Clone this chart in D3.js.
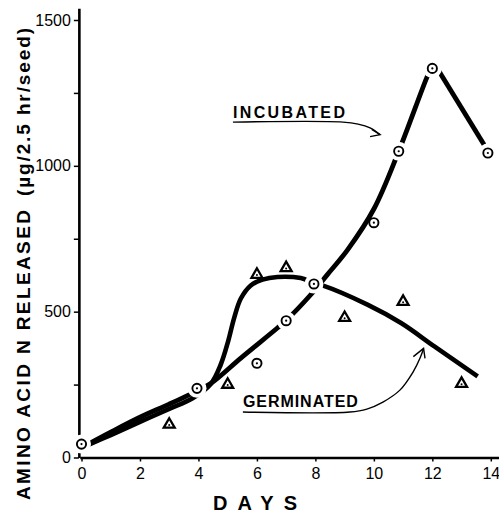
<!DOCTYPE html>
<html>
<head>
<meta charset="utf-8">
<script src="https://cdn.jsdelivr.net/npm/d3@7"></script>
<style>
  html, body { margin: 0; padding: 0; background: #fff; }
  svg { display: block; }
  text { font-family: "Liberation Sans", Arial, sans-serif; fill: #000; }
</style>
</head>
<body>
<script>
// ---------------- DATA ----------------
// Measured points: incubated seeds (circles)
const incubatedDays   = [0, 3.95, 6, 7, 7.95, 10, 10.85, 12, 13.9];
const incubatedValues = [46, 237, 323, 469, 595, 805, 1050, 1334, 1044];
const incubatedOnCurve = [true, true, false, true, true, false, true, true, true];

// Measured points: germinated seeds (triangles)
const germinatedDays   = [3, 5, 6, 7, 9, 11, 13];
const germinatedValues = [113, 250, 627, 650, 479, 534, 253];

// Hand-drawn fitted curves as [day, value]
const incubatedCurveRise = [[0.25,47],[1,87],[2,138],[3,183],[3.8,221],[4.42,254],[5.45,341],[6.7,444],[7,470],[7.84,558],[8.41,627],[9.1,712],[10,852],[10.85,1050],[11.8,1300],[12.04,1355]];
const incubatedCurveFall = [[12.04,1355],[13.77,1072]];
const germinatedCurve = [[0.25,44],[1,77],[2,122],[3,167],[3.8,203],[4.42,252],[4.76,318],[5.02,400],[5.22,478],[5.45,545],[5.79,590],[6.19,610],[6.7,619],[7.5,615],[8,596],[8.24,590],[9.78,524],[10.93,461],[12.07,381],[13.55,278]];

// Axis ticks
const xTicks = [0, 2, 4, 6, 8, 10, 12, 14];
const yTicks = [0, 250, 500, 750, 1000, 1250, 1500];
const yTickLabels = {0: "0", 500: "500", 1000: "1000", 1500: "1500"};

// Annotations (in data units)
const incubatedLabel = {text: "INCUBATED", day: 5.18, value: 1164};
const incubatedArrow = [[5.18,1150],[8.94,1150],[9.46,1143],[9.87,1130],[10.21,1107]];
const incubatedArrowHead = [[9.93,1125],[10.21,1107],[9.87,1100]];
const germinatedLabel = {text: "GERMINATED", day: 5.52, value: 173};
const germinatedArrow = [[5.52,156],[9.18,156],[9.76,166],[10.31,190],[10.89,231],[11.34,293],[11.58,341],[11.70,374]];
const germinatedArrowHead = [[11.35,346],[11.70,374],[11.75,340]];

const xTitle = "DAYS";
const yTitleMain = "AMINO ACID N RELEASED";
const yTitleUnit = "(\u00b5g/2.5 hr/seed)";

// ---------------- CHART ----------------
const W = 499, H = 515;
const pxPerDay = 29.236, x0px = 81.5;
const pxPerUnit = 0.29167, y0px = 457.5;

const x = d3.scaleLinear().domain([-0.06, 14.3])
  .range([x0px - 0.06 * pxPerDay, x0px + 14.3 * pxPerDay]);
const y = d3.scaleLinear().domain([0, 1540])
  .range([y0px, y0px - 1540 * pxPerUnit]);

const svg = d3.select("body").append("svg").attr("width", W).attr("height", H);
svg.append("rect").attr("width", W).attr("height", H).attr("fill", "#fff");

// X axis
const xAxis = svg.append("g").attr("transform", `translate(0,${y0px})`)
  .call(d3.axisBottom(x).tickValues(xTicks).tickSize(4).tickSizeOuter(0).tickPadding(6));
xAxis.select(".domain").attr("stroke", "#000").attr("stroke-width", 2.6);
xAxis.selectAll(".tick line").attr("stroke", "#000").attr("stroke-width", 1.5);
xAxis.selectAll(".tick text").attr("font-size", 16).attr("font-family", "Liberation Sans, Arial, sans-serif").attr("fill", "#000");

// Y axis
const yAxisX = x(-0.09);
const yAxis = svg.append("g").attr("transform", `translate(${yAxisX},0)`)
  .call(d3.axisLeft(y).tickValues(yTicks).tickSize(5).tickSizeOuter(0).tickPadding(3)
    .tickFormat(d => yTickLabels[d] || ""));
yAxis.select(".domain").attr("stroke", "#000").attr("stroke-width", 2.6);
yAxis.selectAll(".tick line").attr("stroke", "#000").attr("stroke-width", 1.5);
yAxis.selectAll(".tick text").attr("font-size", 16).attr("font-family", "Liberation Sans, Arial, sans-serif").attr("fill", "#000");

// Curves
const smooth = d3.line().x(d => x(d[0])).y(d => y(d[1])).curve(d3.curveCatmullRom.alpha(0.5));
const straight = d3.line().x(d => x(d[0])).y(d => y(d[1]));

svg.append("path").attr("d", smooth(germinatedCurve))
  .attr("fill", "none").attr("stroke", "#000").attr("stroke-width", 4.6);
svg.append("path").attr("d", smooth(incubatedCurveRise))
  .attr("fill", "none").attr("stroke", "#000").attr("stroke-width", 4.8);
svg.append("path").attr("d", straight(incubatedCurveFall))
  .attr("fill", "none").attr("stroke", "#000").attr("stroke-width", 4.8);

// White gaps around circles that sit on the curves
const incPts = incubatedDays.map((d, i) => ({day: d, value: incubatedValues[i], gap: incubatedOnCurve[i]}));
svg.append("g").selectAll("circle").data(incPts.filter(p => p.gap)).join("circle")
  .attr("cx", p => x(p.day)).attr("cy", p => y(p.value)).attr("r", 9.5).attr("fill", "#fff");

// Circle markers
const cg = svg.append("g");
cg.selectAll("circle.o").data(incPts).join("circle").attr("class", "o")
  .attr("cx", p => x(p.day)).attr("cy", p => y(p.value)).attr("r", 4.6)
  .attr("fill", "#fff").attr("stroke", "#000").attr("stroke-width", 1.9);
cg.selectAll("circle.dot").data(incPts).join("circle").attr("class", "dot")
  .attr("cx", p => x(p.day)).attr("cy", p => y(p.value)).attr("r", 1.1).attr("fill", "#000");

// Triangle markers
const germPts = germinatedDays.map((d, i) => ({day: d, value: germinatedValues[i]}));
const tri = d3.symbol(d3.symbolTriangle, 52);
const tg = svg.append("g");
tg.selectAll("path").data(germPts).join("path")
  .attr("d", tri).attr("transform", p => `translate(${x(p.day)},${y(p.value)})`)
  .attr("fill", "#fff").attr("stroke", "#000").attr("stroke-width", 2.3).attr("stroke-linejoin", "miter");
tg.selectAll("circle").data(germPts).join("circle")
  .attr("cx", p => x(p.day)).attr("cy", p => y(p.value) + 0.5).attr("r", 1).attr("fill", "#000");

// Annotations
const arrowLine = d3.line().x(d => x(d[0])).y(d => y(d[1])).curve(d3.curveCatmullRom.alpha(0.5));
function annotate(label, path, head, len) {
  svg.append("text").attr("x", x(label.day)).attr("y", y(label.value))
    .attr("font-size", 16).attr("font-weight", "bold")
    .attr("textLength", len).attr("lengthAdjust", "spacing").text(label.text);
  svg.append("path").attr("d", arrowLine(path)).attr("fill", "none")
    .attr("stroke", "#000").attr("stroke-width", 1.4);
  svg.append("path").attr("d", straight(head)).attr("fill", "none")
    .attr("stroke", "#000").attr("stroke-width", 1.4);
}
annotate(incubatedLabel, incubatedArrow, incubatedArrowHead, 112);
annotate(germinatedLabel, germinatedArrow, germinatedArrowHead, 115);

// Axis titles
svg.append("text").attr("x", 213).attr("y", 510)
  .attr("font-size", 20).attr("font-weight", "bold")
  .attr("textLength", 84).attr("lengthAdjust", "spacing").text(xTitle);

svg.append("text").attr("transform", "translate(30,500) rotate(-90)")
  .attr("font-size", 19).attr("font-weight", "bold")
  .attr("textLength", 290).attr("lengthAdjust", "spacing").text(yTitleMain);
svg.append("text").attr("transform", "translate(30,196) rotate(-90)")
  .attr("font-size", 19).attr("font-weight", "bold")
  .attr("textLength", 168).attr("lengthAdjust", "spacing").text(yTitleUnit);
</script>
</body>
</html>
